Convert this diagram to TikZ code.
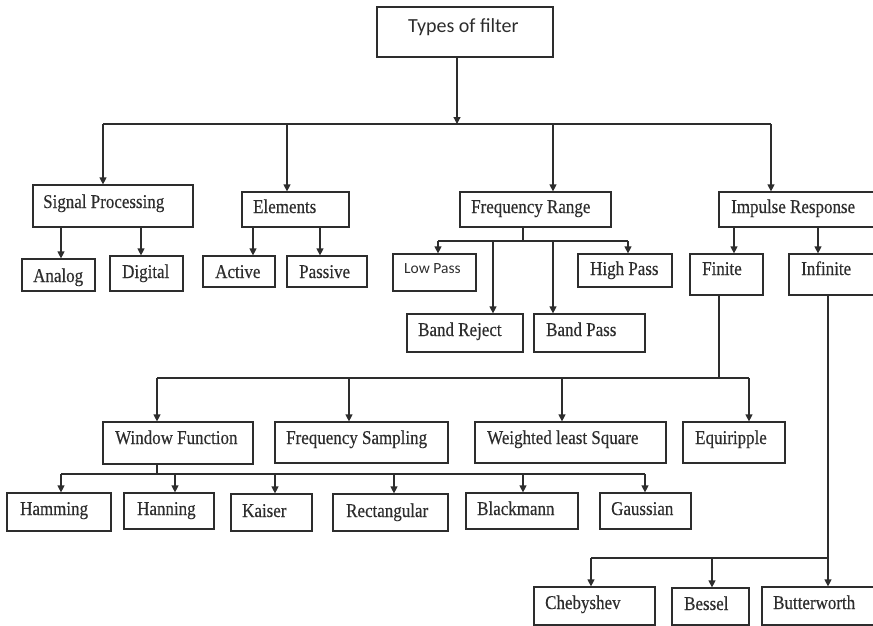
\documentclass[tikz,border=0pt]{standalone}
\usepackage{fontspec}
\setmainfont[FakeStretch=0.87,FakeBold=0.4]{Liberation Serif}
\newfontfamily\sansfam{Carlito}
\usetikzlibrary{arrows.meta,fit}
\definecolor{ink}{RGB}{45,45,45}
\begin{document}
\begin{tikzpicture}[x=1pt,y=-1pt,
  box/.style={draw=ink,line width=1.2pt,inner sep=0pt,fit={#1}},
  lbl/.style={anchor=base west,inner sep=0pt,text=ink,font=\fontsize{19.5}{22}\selectfont},
  slbl/.style={anchor=base west,inner sep=0pt,text=ink,font=\sansfam\fontsize{#1}{#1}\selectfont},
  wire/.style={draw=ink,line width=1.2pt},
  arr/.style={wire,-{Triangle[width=7pt,length=7pt]}}]
\useasboundingbox (0,0) rectangle (873,626);
\clip (0,0) rectangle (873,626);

% ---------- boxes and their labels ----------
\node[box={(377,7)(553,57)}] (root) {};
\node[slbl=20] (root-t) at (408,33) {Types of filter};

\node[box={(33,185)(193,227)}] (sp) {};
\node[lbl] (sp-t) at (43,208) {Signal Processing};
\node[box={(242,192)(349,227)}] (el) {};
\node[lbl] (el-t) at (253,213) {Elements};
\node[box={(460,192)(611,227)}] (fr) {};
\node[lbl] (fr-t) at (471,213) {Frequency Range};
\node[box={(719,192)(876,227)}] (ir) {};
\node[lbl] (ir-t) at (731,213) {Impulse Response};

\node[box={(22,259)(95,291)}] (an) {};
\node[lbl] (an-t) at (33,282) {Analog};
\node[box={(110,256)(183,291)}] (dg) {};
\node[lbl] (dg-t) at (122,278) {Digital};
\node[box={(203,256)(275,287)}] (ac) {};
\node[lbl] (ac-t) at (215,278) {Active};
\node[box={(287,256)(367,287)}] (pa) {};
\node[lbl] (pa-t) at (299,278) {Passive};
\node[box={(393,254)(476,291)}] (lp) {};
\node[slbl=15.5] (lp-t) at (404,273) {Low Pass};
\node[box={(578,254)(672,287)}] (hp) {};
\node[lbl] (hp-t) at (590,275) {High Pass};
\node[box={(690,254)(763,295)}] (fi) {};
\node[lbl] (fi-t) at (702,275) {Finite};
\node[box={(789,254)(876,295)}] (inf) {};
\node[lbl] (inf-t) at (801,275) {Infinite};

\node[box={(407,314)(523,352)}] (br) {};
\node[lbl] (br-t) at (418,336) {Band Reject};
\node[box={(534,314)(645,352)}] (bp) {};
\node[lbl] (bp-t) at (546,336) {Band Pass};

\node[box={(103,422)(253,464)}] (wf) {};
\node[lbl] (wf-t) at (115,444) {Window Function};
\node[box={(275,422)(448,463)}] (fs) {};
\node[lbl] (fs-t) at (286,444) {Frequency Sampling};
\node[box={(475,422)(666,463)}] (wl) {};
\node[lbl] (wl-t) at (487,444) {Weighted least Square};
\node[box={(683,422)(785,463)}] (eq) {};
\node[lbl] (eq-t) at (695,444) {Equiripple};

\node[box={(7,493)(111,531)}] (ham) {};
\node[lbl] (ham-t) at (20,515) {Hamming};
\node[box={(124,493)(214,529)}] (han) {};
\node[lbl] (han-t) at (137,515) {Hanning};
\node[box={(231,494)(312,531)}] (kai) {};
\node[lbl] (kai-t) at (242,517) {Kaiser};
\node[box={(333,494)(448,531)}] (rec) {};
\node[lbl] (rec-t) at (346,517) {Rectangular};
\node[box={(466,493)(578,529)}] (bla) {};
\node[lbl] (bla-t) at (477,515) {Blackmann};
\node[box={(600,493)(691,529)}] (gau) {};
\node[lbl] (gau-t) at (611,515) {Gaussian};

\node[box={(534,587)(655,625)}] (che) {};
\node[lbl] (che-t) at (545,609) {Chebyshev};
\node[box={(672,588)(749,625)}] (bes) {};
\node[lbl] (bes-t) at (684,610) {Bessel};
\node[box={(762,587)(876,625)}] (but) {};
\node[lbl] (but-t) at (773,609) {Butterworth};

% ---------- top level: root to the four categories ----------
\coordinate (bus1) at (457,124);
\coordinate (bus1L) at (103,124);
\coordinate (bus1R) at (771,124);
\coordinate (j-el) at (287,124);
\coordinate (j-fr) at (553,124);
\draw[arr] (bus1 |- root.south) -- (bus1);
\draw[wire] (bus1L) -- (bus1R);
\draw[arr] (bus1L) -- (bus1L |- sp.north);
\draw[arr] (j-el) -- (j-el |- el.north);
\draw[arr] (j-fr) -- (j-fr |- fr.north);
\draw[arr] (bus1R) -- (bus1R |- ir.north);

% ---------- signal processing / elements ----------
\coordinate (x-an) at (61,0);
\coordinate (x-dg) at (141,0);
\coordinate (x-ac) at (253,0);
\coordinate (x-pa) at (320,0);
\draw[arr] (sp.south -| x-an) -- (an.north -| x-an);
\draw[arr] (sp.south -| x-dg) -- (dg.north -| x-dg);
\draw[arr] (el.south -| x-ac) -- (ac.north -| x-ac);
\draw[arr] (el.south -| x-pa) -- (pa.north -| x-pa);

% ---------- frequency range ----------
\coordinate (fr-j) at (523,241);
\coordinate (fr-L) at (438,241);
\coordinate (fr-R) at (628,241);
\coordinate (fr-br) at (493,241);
\coordinate (fr-bp) at (553,241);
\draw[wire] (fr.south -| fr-j) -- (fr-j);
\draw[wire] (fr-L) -- (fr-R);
\draw[arr] (fr-L) -- (fr-L |- lp.north);
\draw[arr] (fr-R) -- (fr-R |- hp.north);
\draw[arr] (fr-br) -- (fr-br |- br.north);
\draw[arr] (fr-bp) -- (fr-bp |- bp.north);

% ---------- impulse response ----------
\coordinate (x-fi) at (734,0);
\coordinate (x-inf) at (818,0);
\draw[arr] (ir.south -| x-fi) -- (fi.north -| x-fi);
\draw[arr] (ir.south -| x-inf) -- (inf.north -| x-inf);

% ---------- finite impulse response design methods ----------
\coordinate (fi-j) at (719,378);
\coordinate (fi-L) at (157,378);
\coordinate (fi-R) at (749,378);
\coordinate (fi-fs) at (349,378);
\coordinate (fi-wl) at (562,378);
\draw[wire] (fi.south -| fi-j) -- (fi-j);
\draw[wire] (fi-L) -- (fi-R);
\draw[arr] (fi-L) -- (fi-L |- wf.north);
\draw[arr] (fi-fs) -- (fi-fs |- fs.north);
\draw[arr] (fi-wl) -- (fi-wl |- wl.north);
\draw[arr] (fi-R) -- (fi-R |- eq.north);

% ---------- window functions ----------
\coordinate (wf-j) at (157,474);
\coordinate (wf-L) at (61,474);
\coordinate (wf-R) at (645,474);
\coordinate (wf-han) at (175,474);
\coordinate (wf-kai) at (275,474);
\coordinate (wf-rec) at (394,474);
\coordinate (wf-bla) at (523,474);
\draw[wire] (wf.south -| wf-j) -- (wf-j);
\draw[wire] (wf-L) -- (wf-R);
\draw[arr] (wf-L) -- (wf-L |- ham.north);
\draw[arr] (wf-han) -- (wf-han |- han.north);
\draw[arr] (wf-kai) -- (wf-kai |- kai.north);
\draw[arr] (wf-rec) -- (wf-rec |- rec.north);
\draw[arr] (wf-bla) -- (wf-bla |- bla.north);
\draw[arr] (wf-R) -- (wf-R |- gau.north);

% ---------- infinite impulse response families ----------
\coordinate (in-R) at (828,558);
\coordinate (in-L) at (591,558);
\coordinate (in-bes) at (712,558);
\draw[wire] (inf.south -| in-R) -- (in-R);
\draw[wire] (in-L) -- (in-R);
\draw[arr] (in-L) -- (in-L |- che.north);
\draw[arr] (in-bes) -- (in-bes |- bes.north);
\draw[arr] (in-R) -- (in-R |- but.north);
\end{tikzpicture}
\end{document}
